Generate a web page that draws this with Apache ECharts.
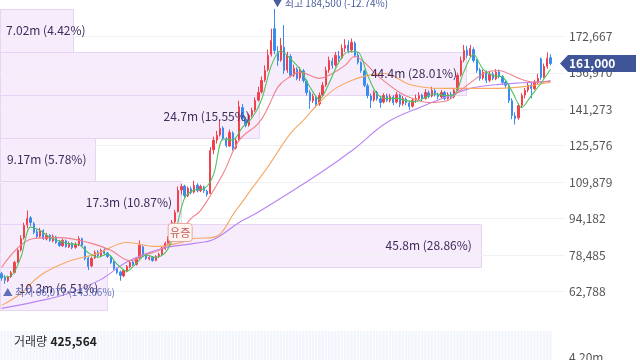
<!DOCTYPE html>
<html><head><meta charset="utf-8">
<script src="https://cdn.jsdelivr.net/npm/echarts@6/dist/echarts.min.js"></script>
<style>html,body{margin:0;padding:0;background:#fff;}#c{width:640px;height:360px;}</style>
</head><body><div id="c"></div>
<script>
const FONT = "'Noto Sans CJK KR','Noto Sans',sans-serif";

// [open, close, low, high]
const candles = [
[70400,68600,67400,71200],[68800,67600,66077,69800],[67400,69000,66800,69600],[69200,70800,68600,71600],
[71000,75300,70600,76000],[75500,80500,75000,81500],[80800,85600,80000,87000],[86000,91200,85200,92400],
[91500,94200,90000,97700],[94500,92500,91000,95200],[92000,88200,87500,92800],[88500,86500,85800,89500],
[86600,89100,86000,90200],[89000,85600,85000,89600],[85400,86900,84800,88000],[87000,84800,84200,87500],
[84600,86500,84000,87400],[86300,83900,83300,86800],[84000,82600,82000,85000],[82500,84800,82000,85500],
[84600,82200,81600,85200],[82000,83500,81500,84300],[83600,81700,81000,84000],[81800,83000,81200,84000],
[82800,85600,82300,86600],[85500,82600,82000,86000],[82000,77000,76200,82500],[77200,73500,72000,77800],
[73800,77000,73200,77800],[77300,79600,76800,80500],[79800,78300,77600,80600],[78200,80500,77800,81200],
[80600,79200,78600,81400],[79400,77900,77200,79800],[77800,75300,74600,78200],[75500,72700,72000,76000],
[72600,71000,70200,73200],[71200,69700,67400,71800],[69500,71800,69000,72500],[71500,73500,71000,74200],
[73400,75300,72800,76000],[75500,74400,73800,76200],[74500,77000,74000,77600],[77200,82600,76800,84800],
[82000,78300,77600,82600],[78500,77000,76400,79000],[76800,77400,76200,78200],[77500,76100,75600,78000],
[76200,77900,75800,78400],[77800,78700,77200,79500],[78800,81300,78200,82000],[81200,83500,80800,84200],
[83600,86500,83000,87500],[86800,92500,86200,93500],[92800,96800,92000,98000],[97200,106300,96800,108000],
[106500,108000,104500,109200],[108200,104100,103200,108800],[104000,107200,103500,108000],[107000,105400,104600,108000],
[105600,108500,105000,110500],[108600,106300,105500,109400],[106200,108000,105600,108800],[107800,106300,105200,108400],
[106000,104600,103600,106600],[105000,123500,104800,125000],[123800,127900,122000,129500],[128000,130000,126500,132000],
[130200,133000,129500,136500],[133200,128700,127800,134000],[128500,125700,124800,129200],[125500,131300,125000,132500],
[131000,124400,123500,131800],[124600,127900,124000,129000],[128200,142400,127800,145000],[142000,137300,136500,143600],
[137000,134300,133500,138000],[134500,138600,133800,139500],[138800,140800,137800,142000],[141000,145100,140200,146400],
[145300,148500,144600,151000],[148800,153700,148000,155400],[154000,158000,153000,160200],[158400,164500,157600,167000],
[165000,170900,164000,176000],[176000,166600,165000,184500],[166000,162300,160000,168500],[162500,168800,161800,172000],
[168000,158000,156500,177600],[158200,164500,157000,166000],[164000,155900,155000,165000],[156000,158900,155200,160500],
[158600,154600,153800,159400],[154800,158000,153500,159500],[157800,153700,152800,158600],[153500,148500,147200,154200],
[148600,145100,141500,149500],[145000,146800,144000,148000],[146500,143400,142000,147200],[143600,147200,142800,148500],
[147400,151600,146800,153000],[151800,158000,151000,159600],[158200,162300,157000,164000],[162000,160200,158800,163500],
[160400,164500,159600,166000],[164200,163200,161800,166400],[163400,167500,162800,169200],[167600,168800,166000,171500],
[169000,166600,165400,171000],[166800,170100,165800,171800],[169800,164500,163600,170600],[164600,161500,160600,165800],
[161400,158000,157000,162000],[157800,151600,150800,158400],[151400,147200,146000,152400],[147000,145100,141800,148000],
[145300,148500,144500,149400],[148600,145900,145000,149200],[145800,144200,142000,146800],[144400,147200,143800,148200],
[147000,145100,144400,148000],[145000,146800,144200,147800],[146600,144200,143000,147400],[144400,147600,143800,148800],
[147400,143400,142200,148000],[143600,145900,142800,147000],[145600,144200,143000,146400],[144000,142500,141000,145000],
[142600,145100,142000,146200],[145400,145900,144000,147600],[145800,147200,145000,148600],[147400,145900,144800,148000],
[146000,148500,145400,150000],[148400,146800,146000,149400],[147000,149400,146400,151000],[149200,147600,146800,150200],
[147400,146800,145600,148400],[146600,148500,146000,149600],[148600,145900,145200,149200],[146000,147600,145400,148600],
[147800,146800,145800,148800],[146600,149400,146000,150400],[149600,155900,149000,157000],[156200,162300,155400,164000],
[162500,166600,161500,169000],[166800,164500,163400,168600],[164400,167500,163600,169000],[167000,162300,161400,168000],
[162400,158000,157000,163000],[158200,154600,153600,159000],[154800,157200,154000,158400],[157000,153700,152600,158000],
[153800,156300,153000,157600],[156400,154600,153800,157400],[154400,157200,153800,158600],[157400,155500,154600,158400],
[155400,152900,152000,156000],[153000,151600,150400,154000],[151400,145100,144000,152000],[145000,138600,137000,146000],
[138400,137300,134700,140000],[137600,142900,136800,143800],[143000,147200,142200,148200],[147400,149400,146000,150400],
[149600,151600,148600,153000],[151800,150300,146000,152800],[150200,152900,149600,154000],[152800,154600,152000,156600],
[163000,155000,154000,163600],[155200,159700,154600,161000],[159800,163200,158800,165800],[163500,161000,160200,165000]
];

// volume in millions (bars sit below the visible area; only their backgrounds show)
const volumes = [
0.6,0.5,0.4,0.5,0.9,1.4,1.8,2.2,2.6,1.5, 1.1,0.8,0.7,0.8,0.6,0.6,0.5,0.5,0.5,0.6,
0.5,0.4,0.5,0.4,0.7,0.6,0.9,1.0,0.7,0.6, 0.5,0.5,0.4,0.4,0.5,0.6,0.6,0.8,0.6,0.5,
0.5,0.4,0.5,1.2,0.8,0.5,0.4,0.4,0.4,0.4, 0.5,0.6,0.8,1.6,2.0,3.2,2.4,1.6,1.2,1.0,
1.1,0.9,0.8,0.7,0.8,3.8,2.6,1.9,1.8,1.4, 1.2,1.3,1.4,1.0,3.5,2.0,1.4,1.2,1.1,1.3,
1.5,1.8,2.1,2.6,3.4,3.9,2.2,1.8,2.4,1.5, 1.3,1.0,1.0,0.9,1.0,1.2,1.3,0.9,0.9,0.8,
1.0,1.3,1.4,1.0,1.1,0.9,1.2,1.3,1.0,1.2, 1.1,1.0,1.0,1.2,1.1,1.0,0.8,0.7,0.7,0.6,
0.6,0.6,0.6,0.6,0.7,0.6,0.6,0.7,0.6,0.5, 0.5,0.5,0.6,0.5,0.6,0.5,0.5,0.5,0.5,0.5,
0.5,0.6,1.4,1.9,2.1,1.2,1.3,1.1,0.9,0.8, 0.7,0.7,0.6,0.6,0.6,0.5,0.6,0.6,1.0,1.3,
1.2,1.0,0.8,0.7,0.7,0.6,0.6,0.7,1.4,0.9, 0.8,0.425564
];

// moving averages: [candle index, price]
const maGreen = [[0,69000],[3,69500],[6,77500],[9,90500],[12,89000],[15,86200],[18,84500],[21,83300],[24,83000],[27,79500],[30,77500],[33,79000],[36,74500],[39,71500],[42,75000],[45,78500],[48,77500],[51,79500],[54,88000],[57,103000],[60,106500],[63,107000],[66,113000],[69,128500],[72,128000],[75,133500],[78,137500],[81,145500],[84,160000],[87,166500],[90,163000],[93,158500],[96,151000],[99,145500],[102,152500],[105,161500],[108,166200],[111,166000],[114,156000],[117,147800],[120,146000],[123,146000],[126,145000],[129,144500],[132,146500],[135,148000],[138,147200],[141,147600],[144,157500],[147,165000],[150,158500],[153,155800],[156,155300],[159,149000],[162,142000],[165,147200],[168,152500],[171,158500]];
const maPink = [[0,73100],[10,85600],[18,86000],[28,83500],[34,80500],[40,76100],[45,78700],[49,80500],[54,86100],[59,94200],[62,97700],[69,113600],[74,127900],[80,135200],[83,142100],[86,150700],[89,154600],[93,157200],[99,154600],[102,155900],[107,160200],[110,164000],[113,161500],[117,155900],[124,148500],[128,145900],[133,144200],[139,145100],[142,148500],[145,151600],[151,157200],[155,158000],[159,155900],[163,153700],[167,152900],[171,153700]];
const maOrange = [[0,56800],[6,61900],[12,69700],[20,75300],[30,79200],[39,83900],[48,82200],[56,83900],[60,85600],[66,86100],[73,97700],[78,107200],[83,116600],[90,130900],[94,136500],[99,144200],[104,150300],[109,153700],[114,155900],[119,156700],[128,151600],[139,150300],[146,150300],[155,150300],[163,151100],[171,152900]];
const maPurple = [[0,55500],[10,58200],[21,62000],[31,68000],[39,75500],[50,81300],[60,83500],[66,85200],[74,92500],[80,97000],[99,113600],[110,124400],[120,135600],[131,142500],[139,146800],[146,150300],[155,152000],[171,153300]];

// volume profile (bottom to top)
const bandEdges = [55000,73500,92000,110500,129000,147500,166000,184500];
const bandVolumes = [10.3,45.8,17.3,9.17,24.7,44.4,7.02];
const bandPercents = [6.51,28.86,10.87,5.78,15.55,28.01,4.42];

const priceTickStep = 15697;
const eventIndex = 55;
const eventLabel = '유증';
const volumeTitle = '거래량';
const PAD = 4;

const UP = '#f0414d', DOWN = '#3a8bf0';
const cats = Array.from({length: candles.length + PAD}, (_, i) => i);
const fmt = v => Math.round(v).toLocaleString('en-US');

let hiIdx = 0, loIdx = 0;
candles.forEach((c, i) => { if (c[3] > candles[hiIdx][3]) hiIdx = i; if (c[2] < candles[loIdx][2]) loIdx = i; });
const last = candles[candles.length - 1][1];
const hiVal = candles[hiIdx][3], loVal = candles[loIdx][2];

const mctx = document.createElement('canvas').getContext('2d');
function measure(t, font){ mctx.font = font; return mctx.measureText(t).width; }

const bandData = bandVolumes.map((v, i) => [v, bandEdges[i], bandEdges[i+1], bandPercents[i]]);

const chart = echarts.init(document.getElementById('c'), null, {renderer: 'canvas'});
chart.setOption({
  animation: false,
  textStyle: {fontFamily: FONT},
  grid: [
    {left: 0, right: 75, top: 0, height: 327.9, outerBoundsMode: 'none', containLabel: false},
    {left: 0, right: 75, top: 331, height: 130, outerBoundsMode: 'none', containLabel: false}
  ],
  xAxis: [
    {type: 'category', gridIndex: 0, data: cats, boundaryGap: true, show: false},
    {type: 'value', gridIndex: 0, min: 0, max: 53.7, show: false},
    {type: 'category', gridIndex: 1, data: cats, boundaryGap: true, show: false}
  ],
  yAxis: [
    {type: 'value', gridIndex: 0, position: 'right', min: priceTickStep * 3, max: priceTickStep * 12, interval: priceTickStep,
     axisLine: {show: false}, axisTick: {show: false},
     axisLabel: {showMinLabel: false, showMaxLabel: false, color: '#555', fontSize: 12, margin: 4, fontFamily: FONT, formatter: v => fmt(v)},
     splitLine: {show: true, showMinLine: false, showMaxLine: false, lineStyle: {color: '#f0f0f5', width: 1}}},
    {type: 'value', gridIndex: 1, position: 'right', min: 0, max: 5.25, interval: 2.1,
     axisLine: {show: false}, axisTick: {show: false}, splitLine: {show: false},
     axisLabel: {showMaxLabel: false, color: '#555', fontSize: 12, margin: 4, fontFamily: FONT, formatter: v => v.toFixed(2) + 'm'}}
  ],
  graphic: [{
    type: 'text', left: 14, top: 335, z: 100,
    style: {text: '{a|' + volumeTitle + '} {b|' + fmt(volumes[volumes.length-1] * 1e6) + '}',
      rich: {a: {fontSize: 12, fill: '#333', fontFamily: FONT}, b: {fontSize: 12, fontWeight: 'bold', fill: '#222', fontFamily: FONT}}}
  }],
  series: [
    {type: 'custom', name: 'profile', xAxisIndex: 1, yAxisIndex: 0, z: -1, data: bandData,
     renderItem: (params, api) => {
       const a = api.coord([0, api.value(2)]), b = api.coord([api.value(0), api.value(1)]);
       const x0 = Math.round(a[0]) + 0.5, y0 = Math.round(a[1]) + 0.5, x1 = Math.round(b[0]) - 0.5, y1 = Math.round(b[1]) + 0.5;
       return {type: 'rect', shape: {x: x0, y: y0, width: x1 - x0, height: y1 - y0}, style: {fill: '#f7ecfc', stroke: '#e7d3f2', lineWidth: 1}};
     }},
    {type: 'bar', xAxisIndex: 2, yAxisIndex: 1, data: volumes, barWidth: 2.4, showBackground: true,
     backgroundStyle: {color: '#f2f5fb'}, itemStyle: {color: '#dbe4f5'}},
    {type: 'candlestick', xAxisIndex: 0, yAxisIndex: 0, data: candles, barWidth: 1.8, z: 2,
     itemStyle: {color: UP, color0: DOWN, borderColor: UP, borderColor0: DOWN, borderWidth: 1}},
    {type: 'line', data: maPurple, smooth: 0.4, symbol: 'none', lineStyle: {width: 1.1, color: '#b884f4'}, z: 3},
    {type: 'line', data: maOrange, smooth: 0.4, symbol: 'none', lineStyle: {width: 1.1, color: '#f7a862'}, z: 3},
    {type: 'line', data: maPink, smooth: 0.4, symbol: 'none', lineStyle: {width: 1.1, color: '#f37f86'}, z: 3},
    {type: 'line', data: maGreen, smooth: 0.3, symbol: 'none', lineStyle: {width: 1.1, color: '#4cc35c'}, z: 3},
    {type: 'custom', name: 'profileLabels', xAxisIndex: 1, yAxisIndex: 0, z: 5, data: bandData,
     renderItem: (params, api) => {
       const v = api.value(0), pct = api.value(3);
       const a = api.coord([0, api.value(2)]), b = api.coord([v, api.value(1)]);
       const txt = Number(v.toPrecision(3)) + 'm (' + pct.toFixed(2) + '%)';
       const font = '12px ' + FONT;
       let x = b[0] - 10 - measure(txt, font);
       if (x < 6) x = 6;
       return {type: 'text', style: {text: txt, x: x, y: (a[1] + b[1]) / 2, align: 'left', verticalAlign: 'middle', fill: '#3d2b5a', font: font}};
     }},
    {type: 'custom', name: 'extremes', xAxisIndex: 0, yAxisIndex: 0, z: 6,
     data: [[hiIdx, hiVal, 0], [loIdx, loVal, 1]],
     renderItem: (params, api) => {
       const p = api.coord([api.value(0), api.value(1)]);
       const isHi = api.value(2) === 0;
       const v = api.value(1);
       const pct = ((last / v - 1) * 100).toFixed(2);
       const txt = (isHi ? '▼ 최고 ' : '▲ 최저 ') + fmt(v) + ' (' + pct + '%)';
       return {type: 'text', style: {text: txt, x: p[0] - 2, y: isHi ? p[1] - 1 : p[1] + 3, align: 'left',
         verticalAlign: isHi ? 'bottom' : 'top', fill: isHi ? '#4a5c9c' : '#6170b8', font: '10px ' + FONT}};
     }},
    {type: 'custom', name: 'event', xAxisIndex: 0, yAxisIndex: 0, z: 6,
     data: [[eventIndex, candles[eventIndex][2]]],
     renderItem: (params, api) => {
       const p = api.coord([api.value(0), api.value(1)]);
       const cx = p[0] + 2, top = p[1] + 11, w = 24, h = 18;
       return {type: 'group', children: [
         {type: 'rect', shape: {x: cx - w / 2, y: top, width: w, height: h, r: 3}, style: {fill: '#fff4f1', stroke: '#e8a99e', lineWidth: 1}},
         {type: 'text', style: {text: eventLabel, x: cx, y: top + h / 2 + 0.5, align: 'center', verticalAlign: 'middle', fill: '#c0564c', font: '11px ' + FONT}}
       ]};
     }},
    {type: 'custom', name: 'lastTag', xAxisIndex: 0, yAxisIndex: 0, z: 10,
     data: [[candles.length - 1, last]],
     renderItem: (params, api) => {
       const p = api.coord([api.value(0), api.value(1)]);
       const cs = params.coordSys;
       const tip = cs.x + cs.width - 5, y = p[1], h = 17, w = 76;
       return {type: 'group', children: [
         {type: 'polygon', shape: {points: [[tip, y], [tip + 8, y - h / 2], [tip + w, y - h / 2], [tip + w, y + h / 2], [tip + 8, y + h / 2]]}, style: {fill: '#3f5597'}},
         {type: 'text', style: {text: fmt(api.value(1)), x: tip + 9, y: y, align: 'left', verticalAlign: 'middle', fill: '#fff', font: 'bold 12px ' + FONT}}
       ]};
     }}
  ]
});
</script></body></html>
